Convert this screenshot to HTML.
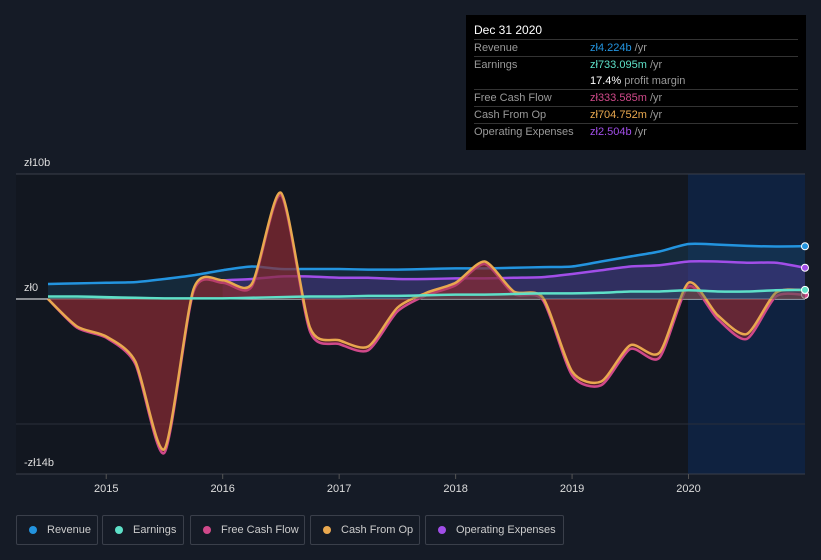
<!DOCTYPE html>
<html><head><meta charset="utf-8"><style>
body{margin:0;background:#151b26;width:821px;height:560px;overflow:hidden;font-family:"Liberation Sans",sans-serif}
#tip{position:absolute;left:466px;top:15px;width:340px;height:135px;background:#000;color:#fff;font-size:11px;box-sizing:border-box;padding:8px 8px 0 8px}
#tip .r{display:flex;border-top:1px solid #333;height:16px;line-height:16px}
#tip .k{width:116px;color:#999}
.leg{position:absolute;top:515px;height:30px;border:1px solid #3a3f4a;border-radius:2px;box-sizing:border-box;color:#ccc;font-size:11px;line-height:28px;padding-left:30px;white-space:nowrap;overflow:hidden}
.leg i{position:absolute;left:12px;top:10px;width:8px;height:8px;border-radius:50%}
</style></head><body>
<svg id="chart" width="821" height="560" style="position:absolute;left:0;top:0"></svg>
<div id="tip">
<div style="height:16px;line-height:14px;font-size:12px">Dec 31 2020</div>
<div class="r"><span class="k">Revenue</span><span><b style="color:#2394df;font-weight:normal">zł4.224b</b> <span style="color:#999">/yr</span></span></div>
<div class="r"><span class="k">Earnings</span><span><b style="color:#5ee0c8;font-weight:normal">zł733.095m</b> <span style="color:#999">/yr</span></span></div>
<div class="r" style="border:none"><span class="k"></span><span>17.4% <span style="color:#999">profit margin</span></span></div>
<div class="r"><span class="k">Free Cash Flow</span><span><b style="color:#d0498a;font-weight:normal">zł333.585m</b> <span style="color:#999">/yr</span></span></div>
<div class="r"><span class="k">Cash From Op</span><span><b style="color:#e9a84f;font-weight:normal">zł704.752m</b> <span style="color:#999">/yr</span></span></div>
<div class="r"><span class="k">Operating Expenses</span><span><b style="color:#a14ee8;font-weight:normal">zł2.504b</b> <span style="color:#999">/yr</span></span></div>
</div>
<div class="leg" style="left:16px;width:82px"><i style="background:#2394df"></i>Revenue</div>
<div class="leg" style="left:102px;width:82px"><i style="background:#5ee0c8"></i>Earnings</div>
<div class="leg" style="left:190px;width:115px"><i style="background:#d0498a"></i>Free Cash Flow</div>
<div class="leg" style="left:310px;width:110px"><i style="background:#e9a84f"></i>Cash From Op</div>
<div class="leg" style="left:425px;width:139px"><i style="background:#a14ee8"></i>Operating Expenses</div>
<script>
const years=[2014.5,2014.75,2015,2015.25,2015.5,2015.75,2016,2016.25,2016.5,2016.75,2017,2017.25,2017.5,2017.75,2018,2018.25,2018.5,2018.75,2019,2019.25,2019.5,2019.75,2020,2020.25,2020.5,2020.75,2021];
const cfo=[0,-2.2,-3,-5,-12,0.8,1.5,1.2,8.5,-2.3,-3.3,-3.8,-0.7,0.5,1.3,3,0.6,0.1,-5.8,-6.6,-3.7,-4.3,1.3,-1.3,-2.8,0.5,0.7];
const fcf=[0,-2.3,-3.1,-5.2,-12.3,0.6,1.3,1.0,8.3,-2.6,-3.6,-4.1,-1.0,0.3,1.1,2.8,0.4,-0.1,-6.1,-6.9,-4.0,-4.7,1.0,-1.6,-3.2,0.2,0.33];
const rev=[1.2,1.25,1.3,1.35,1.6,1.9,2.3,2.6,2.4,2.4,2.4,2.35,2.35,2.4,2.45,2.45,2.5,2.55,2.6,3.0,3.4,3.8,4.4,4.35,4.25,4.2,4.22];
const earn=[0.2,0.2,0.15,0.1,0.05,0.05,0.05,0.1,0.15,0.2,0.2,0.25,0.25,0.3,0.35,0.35,0.4,0.45,0.45,0.5,0.6,0.6,0.7,0.6,0.6,0.7,0.73];
const opex=[null,null,null,null,null,null,1.5,1.6,1.8,1.8,1.7,1.7,1.6,1.6,1.65,1.65,1.7,1.75,2.0,2.3,2.6,2.7,3.0,3.0,2.9,2.9,2.5];
const yTicks=[10,0,-14];
const xTicks=[2015,2016,2017,2018,2019,2020];
const X=v=>48+(v-2014.5)*(757/6.5), Y=v=>299-v*12.5;
const svg=document.getElementById('chart'),NS='http://www.w3.org/2000/svg';
function el(t,a){const e=document.createElementNS(NS,t);for(const k in a)e.setAttribute(k,a[k]);svg.appendChild(e);return e;}
function curve(xs,ys){let p=xs.map((x,i)=>[X(x),Y(ys[i])]);let d='M'+p[0][0]+','+p[0][1];for(let i=0;i<p.length-1;i++){const p0=p[i-1]||p[i],p1=p[i],p2=p[i+1],p3=p[i+2]||p2;d+=' C'+(p1[0]+(p2[0]-p0[0])/8)+','+(p1[1]+(p2[1]-p0[1])/8)+' '+(p2[0]-(p3[0]-p1[0])/8)+','+(p2[1]-(p3[1]-p1[1])/8)+' '+p2[0]+','+p2[1];}return d;}
function series(vals){const xs=[],ys=[];vals.forEach((v,i)=>{if(v!==null){xs.push(years[i]);ys.push(v);}});return [xs,ys];}
let r=el('rect',{x:16,y:174,width:672,height:300,fill:'#121720'});
r=el('rect',{x:688,y:174,width:117,height:300,fill:'#0f2240'});
yTicks.forEach(t=>{const g=el('line',{x1:16,x2:805,y1:Y(t),y2:Y(t),stroke:t==0?'#fff':'#3a3f4a','stroke-width':1});
const tx=el('text',{x:24,y:Y(t)-8,fill:'#ddd','font-size':11,'font-family':'Liberation Sans'});tx.textContent=(t<0?'-zł':'zł')+Math.abs(t)+(t?'b':'');});
el('line',{x1:16,x2:805,y1:Y(-10),y2:Y(-10),stroke:'#2a2f3a'});
xTicks.forEach(t=>{const l=el('line',{x1:X(t),x2:X(t),y1:474,y2:479,stroke:'#555'});
const tx=el('text',{x:X(t),y:492,fill:'#ddd','font-size':11,'text-anchor':'middle','font-family':'Liberation Sans'});tx.textContent=t;});
function draw(vals,color,fillc,op,name,w){const [xs,ys]=series(vals);const d=curve(xs,ys);
const a=el('path',{d:d+' L'+X(xs[xs.length-1])+','+Y(0)+' L'+X(xs[0])+','+Y(0)+'Z',fill:fillc,opacity:op});
const p=el('path',{d:d,fill:'none',stroke:color,'stroke-width':w});
const c=el('circle',{cx:X(xs[xs.length-1]),cy:Y(ys[ys.length-1]),r:3.5,fill:color,stroke:'#fff','stroke-width':1});}
draw(rev,'#2394df','#1d4a6e',0.35,'revenue',2.5);
draw(opex,'#a14ee8','#5a3a9a',0.4,'operating-expenses',2.5);
draw(fcf,'#d0498a','#8a2a35',0.55,'free-cash-flow',2.5);
draw(cfo,'#e9a84f','#8a2a30',0.35,'cash-from-op',2.5);
draw(earn,'#5ee0c8','#2a6a60',0.3,'earnings',2.5);
</script>
</body></html>
